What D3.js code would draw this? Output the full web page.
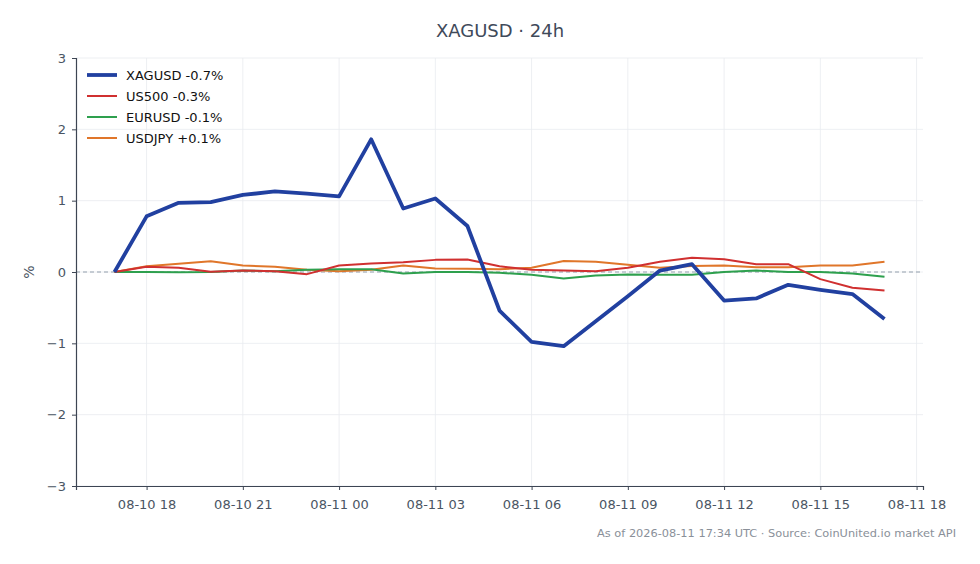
<!DOCTYPE html>
<html>
<head>
<meta charset="utf-8">
<script src="https://cdn.jsdelivr.net/npm/d3@7/dist/d3.min.js"></script>
<style>
  html, body { margin: 0; padding: 0; background: #ffffff; }
  svg { display: block; font-family: "DejaVu Sans", sans-serif; }
</style>
</head>
<body>
<svg id="chart" width="980" height="564"></svg>
<script>
const times = [
  "2026-08-10T17:00Z","2026-08-10T18:00Z","2026-08-10T19:00Z","2026-08-10T20:00Z","2026-08-10T21:00Z",
  "2026-08-10T22:00Z","2026-08-10T23:00Z","2026-08-11T00:00Z","2026-08-11T01:00Z","2026-08-11T02:00Z",
  "2026-08-11T03:00Z","2026-08-11T04:00Z","2026-08-11T05:00Z","2026-08-11T06:00Z","2026-08-11T07:00Z",
  "2026-08-11T08:00Z","2026-08-11T09:00Z","2026-08-11T10:00Z","2026-08-11T11:00Z","2026-08-11T12:00Z",
  "2026-08-11T13:00Z","2026-08-11T14:00Z","2026-08-11T15:00Z","2026-08-11T16:00Z","2026-08-11T17:00Z"
];
const xagusd = [0, 0.78, 0.97, 0.98, 1.08, 1.13, 1.10, 1.06, 1.86, 0.89, 1.03, 0.645, -0.54, -0.98, -1.04, -0.69, -0.34, 0.02, 0.11, -0.40, -0.37, -0.18, -0.25, -0.31, -0.66];
const us500  = [0, 0.075, 0.06, 0.005, 0.02, 0.01, -0.03, 0.09, 0.12, 0.135, 0.17, 0.175, 0.08, 0.03, 0.02, 0.01, 0.06, 0.145, 0.20, 0.18, 0.11, 0.11, -0.10, -0.22, -0.26];
const eurusd = [0, 0.0, -0.005, 0.0, 0.02, 0.01, 0.03, 0.04, 0.04, -0.02, 0.0, 0.0, -0.01, -0.04, -0.09, -0.05, -0.035, -0.04, -0.04, 0.0, 0.02, 0.0, 0.0, -0.02, -0.065];
const usdjpy = [0, 0.08, 0.115, 0.15, 0.09, 0.075, 0.03, 0.01, 0.03, 0.09, 0.05, 0.045, 0.04, 0.06, 0.155, 0.145, 0.10, 0.06, 0.085, 0.09, 0.065, 0.065, 0.09, 0.09, 0.145];
const seriesNames = ["XAGUSD -0.7%", "US500 -0.3%", "EURUSD -0.1%", "USDJPY +0.1%"];
const yTicks = [-3, -2, -1, 0, 1, 2, 3];
const titleText = "XAGUSD · 24h";
const footerText = "As of 2026-08-11 17:34 UTC · Source: CoinUnited.io market API";

const colors = ["#2140a0", "#d03030", "#2ea04e", "#e0762a"];
const widths = [3.8, 2, 2, 2];
const seriesValues = [xagusd, us500, eurusd, usdjpy];

const svg = d3.select("#chart");
const M = { left: 76, right: 923, top: 58, bottom: 486 };

const dates = times.map(t => new Date(t));
const t0 = dates[0], t1 = dates[dates.length - 1];
const span = t1 - t0;
const x = d3.scaleUtc()
  .domain([new Date(+t0 - span * 0.05), new Date(+t1 + span * 0.05)])
  .range([M.left, M.right]);
const y = d3.scaleLinear().domain([-3, 3]).range([M.bottom, M.top]);

const xTicks = d3.utcHour.every(3).range(new Date("2026-08-10T18:00Z"), new Date("2026-08-11T18:30Z"));

// grid
const grid = svg.append("g");
grid.selectAll(".vg").data(xTicks).join("line")
  .attr("x1", d => x(d)).attr("x2", d => x(d))
  .attr("y1", M.top).attr("y2", M.bottom)
  .attr("stroke", "#e8ebef").attr("stroke-width", 0.8);
grid.selectAll(".hg").data(yTicks).join("line")
  .attr("x1", M.left).attr("x2", M.right)
  .attr("y1", d => y(d)).attr("y2", d => y(d))
  .attr("stroke", "#e8ebef").attr("stroke-width", 0.8);

// zero line
svg.append("line")
  .attr("x1", M.left).attr("x2", M.right)
  .attr("y1", y(0)).attr("y2", y(0))
  .attr("stroke", "#94a0ad").attr("stroke-width", 1)
  .attr("stroke-dasharray", "4,3");

// axes
const axisColor = "#3d4553";
const labelColor = "#4a5563";
const fmt = d3.utcFormat("%m-%d %H");
const xAxis = svg.append("g")
  .attr("transform", `translate(0,${M.bottom})`)
  .call(d3.axisBottom(x).tickValues(xTicks).tickFormat(fmt).tickSizeOuter(0).tickSize(4).tickPadding(10));
const yAxis = svg.append("g")
  .attr("transform", `translate(${M.left},0)`)
  .call(d3.axisLeft(y).tickValues(yTicks).tickFormat(d => d < 0 ? "\u2212" + Math.abs(d) : String(d)).tickSizeOuter(0).tickSize(4).tickPadding(6));
[xAxis, yAxis].forEach(a => {
  a.select(".domain").attr("stroke", axisColor).attr("stroke-width", 1.2);
  a.selectAll(".tick line").attr("stroke", axisColor).attr("stroke-width", 1);
  a.selectAll(".tick text").attr("fill", labelColor).style("font-size", "13px").style("font-family", "DejaVu Sans, sans-serif");
});

// lines
const line = d3.line().x((d, i) => x(dates[i])).y(d => y(d));
seriesValues.slice().reverse().forEach((vals, ri) => {
  const i = seriesValues.length - 1 - ri;
  svg.append("path")
    .datum(vals)
    .attr("d", line)
    .attr("fill", "none")
    .attr("stroke", colors[i])
    .attr("stroke-width", widths[i])
    .attr("stroke-linejoin", "round")
    .attr("stroke-linecap", "butt");
});

// legend
const lg = svg.append("g");
seriesNames.forEach((name, i) => {
  const yy = 75 + i * 21;
  lg.append("line").attr("x1", 87).attr("x2", 117).attr("y1", yy).attr("y2", yy)
    .attr("stroke", colors[i]).attr("stroke-width", widths[i]);
  lg.append("text").attr("x", 126).attr("y", yy).attr("dy", "0.35em")
    .attr("fill", "#111").style("font-size", "13px").text(name);
});

// y label
svg.append("text")
  .attr("transform", `translate(34,${y(0)}) rotate(-90)`)
  .attr("text-anchor", "middle")
  .attr("fill", labelColor).style("font-size", "14px").text("%");

// title
svg.append("text").attr("x", 500).attr("y", 37).attr("text-anchor", "middle")
  .attr("fill", "#3f4a5a").style("font-size", "18px").text(titleText);

// footer
svg.append("text").attr("x", 956).attr("y", 537).attr("text-anchor", "end")
  .attr("fill", "#8a9099").style("font-size", "11.35px").text(footerText);
</script>
</body>
</html>
